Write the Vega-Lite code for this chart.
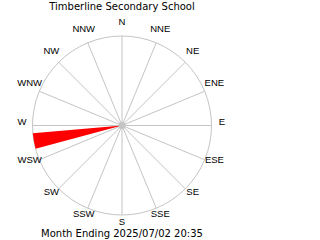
{
  "$schema": "https://vega.github.io/schema/vega-lite/v6.json",
  "width": 320,
  "height": 240,
  "padding": 0,
  "autosize": {"type": "none"},
  "background": "white",
  "config": {"view": {"stroke": null}, "axis": {"disable": true}},
  "datasets": {
    "dirs": [
      {"dir": "N", "angle": 0}, {"dir": "NNE", "angle": 22.5}, {"dir": "NE", "angle": 45}, {"dir": "ENE", "angle": 67.5},
      {"dir": "E", "angle": 90}, {"dir": "ESE", "angle": 112.5}, {"dir": "SE", "angle": 135}, {"dir": "SSE", "angle": 157.5},
      {"dir": "S", "angle": 180}, {"dir": "SSW", "angle": 202.5}, {"dir": "SW", "angle": 225}, {"dir": "WSW", "angle": 247.5},
      {"dir": "W", "angle": 270}, {"dir": "WNW", "angle": 292.5}, {"dir": "NW", "angle": 315}, {"dir": "NNW", "angle": 337.5}
    ],
    "wind": [{"start": 255, "end": 265, "freq": 100}]
  },
  "layer": [
    {
      "data": {"values": [{"cx": 0, "cy": 0}]},
      "mark": {"type": "point", "shape": "circle", "size": 32041, "filled": false, "stroke": "#c4c4c4", "strokeWidth": 1, "opacity": 1},
      "encoding": {
        "x": {"field": "cx", "type": "quantitative", "scale": {"domain": [-122, 198], "nice": false, "zero": false}, "axis": null},
        "y": {"field": "cy", "type": "quantitative", "scale": {"domain": [-114.5, 125.5], "nice": false, "zero": false}, "axis": null}
      }
    },
    {
      "data": {"name": "dirs"},
      "transform": [
        {"calculate": "0", "as": "x0"},
        {"calculate": "0", "as": "y0"},
        {"calculate": "89.5*sin(datum.angle*PI/180)", "as": "x1"},
        {"calculate": "89.5*cos(datum.angle*PI/180)", "as": "y1"}
      ],
      "mark": {"type": "rule", "stroke": "#c4c4c4", "strokeWidth": 1},
      "encoding": {
        "x": {"field": "x0", "type": "quantitative"},
        "y": {"field": "y0", "type": "quantitative"},
        "x2": {"field": "x1"},
        "y2": {"field": "y1"}
      }
    },
    {
      "data": {"name": "wind"},
      "mark": {"type": "arc", "fill": "#ff0000", "stroke": null},
      "encoding": {
        "x": {"datum": 0, "type": "quantitative"},
        "y": {"datum": 0, "type": "quantitative"},
        "theta": {"field": "start", "type": "quantitative", "scale": {"domain": [0, 360], "range": [0, 6.283185307], "nice": false, "zero": false}},
        "theta2": {"field": "end"},
        "radius": {"field": "freq", "type": "quantitative", "scale": {"type": "linear", "domain": [0, 100], "range": [0, 89.5], "zero": true, "nice": false}}
      }
    },
    {
      "data": {"values": [{"cx": 0, "cy": 0}]},
      "mark": {"type": "point", "shape": "circle", "size": 49, "filled": true, "fill": "#c4c4c4", "opacity": 1, "strokeWidth": 0},
      "encoding": {
        "x": {"field": "cx", "type": "quantitative"},
        "y": {"field": "cy", "type": "quantitative"}
      }
    },
    {
      "data": {"name": "dirs"},
      "transform": [
        {"calculate": "100*sin(datum.angle*PI/180)", "as": "lx"},
        {"calculate": "100*cos(datum.angle*PI/180)", "as": "ly"}
      ],
      "mark": {"type": "text", "font": "Liberation Sans", "fontSize": 9.5, "fill": "#000000", "align": "center", "baseline": "middle", "dy": -4},
      "encoding": {
        "x": {"field": "lx", "type": "quantitative"},
        "y": {"field": "ly", "type": "quantitative"},
        "text": {"field": "dir"}
      }
    },
    {
      "data": {"values": [{"label": "Timberline Secondary School", "tx": 0, "ty": 119}, {"label": "Month Ending 2025/07/02 20:35", "tx": 0, "ty": -108}]},
      "mark": {"type": "text", "font": "DejaVu Sans", "fontSize": 10, "fill": "#000000", "align": "center", "baseline": "middle"},
      "encoding": {
        "x": {"field": "tx", "type": "quantitative"},
        "y": {"field": "ty", "type": "quantitative"},
        "text": {"field": "label"}
      }
    }
  ]
}
